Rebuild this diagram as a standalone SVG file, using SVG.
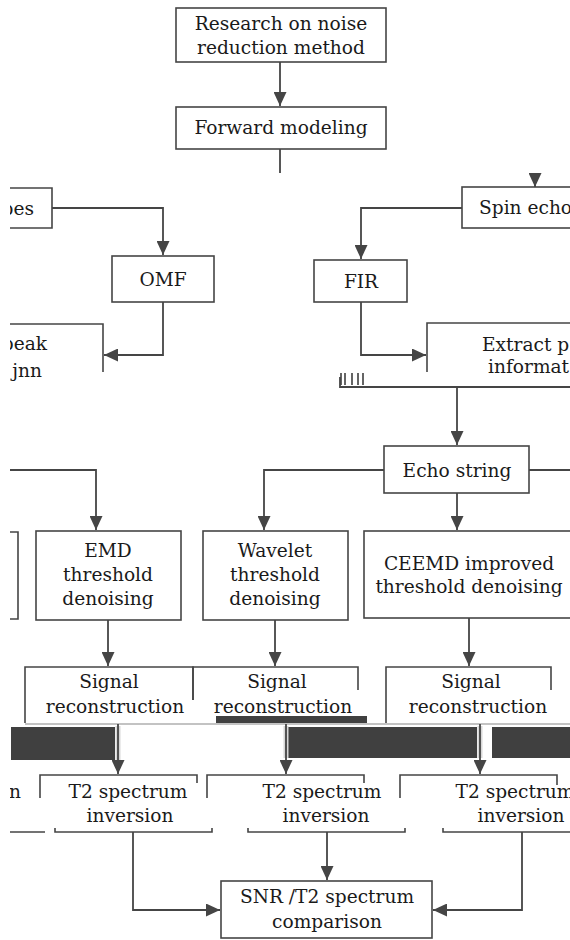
<svg xmlns="http://www.w3.org/2000/svg" width="570" height="940" viewBox="0 0 570 940">
<style>
.box{fill:#fff;stroke:#454545;stroke-width:1.6}
.pb{fill:none;stroke:#454545;stroke-width:1.6}
.ln{fill:none;stroke:#454545;stroke-width:1.8}
.halo{fill:none;stroke:#d8d8d8;stroke-width:5}
.t{font-family:'DejaVu Serif','Liberation Serif',serif;font-size:18.6px;fill:#1a1a1a;text-anchor:middle}
.s{text-anchor:start}
.e{text-anchor:end}
.dark{fill:#404040}
</style>
<defs>
<marker id="ah" viewBox="0 0 14 13" refX="14" refY="6.5" markerWidth="14" markerHeight="13" markerUnits="userSpaceOnUse" orient="auto">
<path d="M0,0 L14,6.5 L0,13 Z" fill="#454545"/>
</marker>
<clipPath id="cl"><rect x="10" y="0" width="560" height="940"/></clipPath>
</defs>
<rect width="570" height="940" fill="#fff"/>
<g clip-path="url(#cl)">
<g id="artifacts">
<rect class="dark" x="216" y="716" width="151" height="7"/>
<rect class="dark" x="11" y="727" width="104" height="33"/>
<rect class="dark" x="287" y="727" width="190" height="31"/>
<rect class="dark" x="492" y="727" width="80" height="31"/>
<path d="M25,724 H570" stroke="#888" stroke-width="1.2" fill="none"/>
</g>
<g id="n1"><rect class="box" x="176" y="8" width="210" height="54"/>
<text class="t" x="281" y="30">Research on noise</text><text class="t" x="281" y="54">reduction method</text></g>
<g id="n2"><rect class="box" x="176" y="107" width="210" height="42"/>
<text class="t" x="281" y="134">Forward modeling</text></g>
<g id="n3"><path class="pb" d="M10,188 H52 V228 H10"/>
<text class="t e" x="34" y="215">pes</text></g>
<g id="n4"><rect class="box" x="112" y="256" width="102" height="46"/>
<text class="t" x="163" y="286">OMF</text></g>
<g id="n5"><path class="pb" d="M10,324 H103 V372"/>
<text class="t e" x="47" y="350">peak</text><text class="t e" x="42" y="377">jnn</text></g>
<g id="n6"><rect class="box" x="462" y="187" width="120" height="41"/>
<text class="t s" x="479" y="214">Spin echo</text></g>
<g id="n7"><rect class="box" x="314" y="260" width="93" height="42"/>
<text class="t" x="361" y="288">FIR</text></g>
<g id="n8"><path class="pb" d="M427,372 V323 H575"/>
<text class="t s" x="482" y="351">Extract p</text><text class="t s" x="488" y="373">informat</text>
<path d="M341,373 V385 M345,373 V385 M352,373 V385 M358,373 V385 M363,373 V385" stroke="#333" stroke-width="1.5"/></g>
<g id="n9"><rect class="box" x="384" y="446" width="145" height="47"/>
<text class="t" x="457" y="477">Echo string</text></g>
<g id="n10"><path class="pb" d="M10,532 H18 V619 H10"/></g>
<g id="n11"><rect class="box" x="36" y="531" width="145" height="89"/>
<text class="t" x="108" y="557">EMD</text><text class="t" x="108" y="581">threshold</text><text class="t" x="108" y="605">denoising</text></g>
<g id="n12"><rect class="box" x="203" y="531" width="145" height="89"/>
<text class="t" x="275" y="557">Wavelet</text><text class="t" x="275" y="581">threshold</text><text class="t" x="275" y="605">denoising</text></g>
<g id="n13"><rect class="box" x="364" y="531" width="212" height="87"/>
<text class="t" x="469" y="570">CEEMD improved</text><text class="t" x="469" y="593">threshold denoising</text></g>
<g id="n14"><path class="pb" d="M25,723 V667 H193 V700"/>
<text class="t" x="109" y="688">Signal</text><text class="t" x="115" y="713">reconstruction</text></g>
<g id="n15"><path class="pb" d="M193,700 V667 H358 V690"/>
<text class="t" x="277" y="688">Signal</text><text class="t" x="283" y="713">reconstruction</text></g>
<g id="n16"><path class="pb" d="M386,723 V667 H551 V690"/>
<text class="t" x="471" y="688">Signal</text><text class="t" x="478" y="713">reconstruction</text></g>
<g id="n17"><path class="pb" d="M10,832 H45"/>
<text class="t e" x="21" y="798">n</text></g>
<g id="n18"><path class="pb" d="M40,798 V775 H197 V783 M55,828 V832 H212 V828"/>
<text class="t" x="128" y="798">T2 spectrum</text><text class="t" x="130" y="822">inversion</text></g>
<g id="n19"><path class="pb" d="M207,798 V775 H364 V783 M248,828 V832 H405 V828"/>
<text class="t" x="322" y="798">T2 spectrum</text><text class="t" x="326" y="822">inversion</text></g>
<g id="n20"><path class="pb" d="M400,798 V775 H557 V785 M443,828 V832 H575"/>
<text class="t" x="515" y="798">T2 spectrum</text><text class="t" x="521" y="822">inversion</text></g>
<g id="n21"><rect class="box" x="221" y="881" width="211" height="57"/>
<text class="t" x="327" y="903">SNR /T2 spectrum</text><text class="t" x="327" y="928">comparison</text></g>
<g id="connectors">
<path class="ln" d="M280,62 V106" marker-end="url(#ah)"/>
<path class="ln" d="M280,149 V173"/>
<path class="ln" d="M52,208 H163 V255" marker-end="url(#ah)"/>
<path class="ln" d="M163,302 V355 H104" marker-end="url(#ah)"/>
<path class="ln" d="M535,173 V187" marker-end="url(#ah)"/>
<path class="ln" d="M462,208 H361 V259" marker-end="url(#ah)"/>
<path class="ln" d="M361,302 V355 H426" marker-end="url(#ah)"/>
<path class="ln" d="M340,377 V387 H570"/>
<path class="ln" d="M457,387 V445" marker-end="url(#ah)"/>
<path class="ln" d="M10,470 H96 V530" marker-end="url(#ah)"/>
<path class="ln" d="M384,470 H264 V530" marker-end="url(#ah)"/>
<path class="ln" d="M529,470 H570"/>
<path class="ln" d="M457,493 V530" marker-end="url(#ah)"/>
<path class="ln" d="M108,620 V666" marker-end="url(#ah)"/>
<path class="ln" d="M275,620 V666" marker-end="url(#ah)"/>
<path class="ln" d="M469,618 V666" marker-end="url(#ah)"/>
<path class="halo" d="M118,726 V760 M286,726 V758 M480,726 V758"/>
<path class="ln" d="M118,724 V774" marker-end="url(#ah)"/>
<path class="ln" d="M286,724 V774" marker-end="url(#ah)"/>
<path class="ln" d="M480,724 V774" marker-end="url(#ah)"/>
<path class="ln" d="M133,832 V910 H220" marker-end="url(#ah)"/>
<path class="ln" d="M327,832 V880" marker-end="url(#ah)"/>
<path class="ln" d="M522,832 V910 H433" marker-end="url(#ah)"/>
</g>
</g>
</svg>
